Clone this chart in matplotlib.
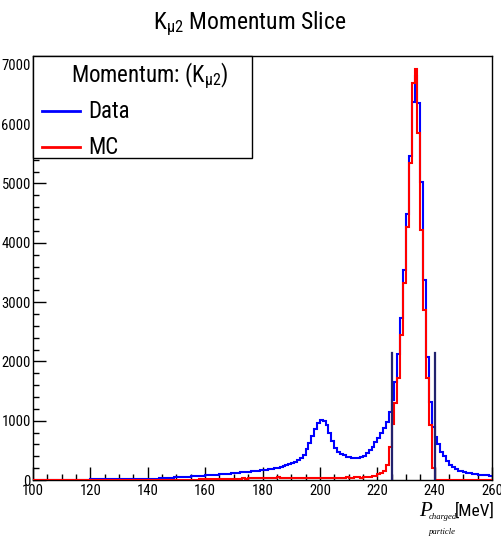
import matplotlib
matplotlib.use("Agg")
import matplotlib.pyplot as plt
import numpy as np
from matplotlib import font_manager
from matplotlib.ticker import MultipleLocator

names = {f.name for f in font_manager.fontManager.ttflist}
SANS = "Liberation Sans"
NARROW = False
for cand in ["Liberation Sans Narrow", "Roboto Condensed", "Open Sans Condensed", "DejaVu Sans Condensed"]:
    if cand in names:
        SANS = cand
        NARROW = True
        break
k = 1.0 if NARROW else 0.86

plt.rcParams['font.family'] = [SANS, 'DejaVu Sans']
plt.rcParams['mathtext.fontset'] = 'custom'
plt.rcParams['mathtext.rm'] = SANS
plt.rcParams['mathtext.it'] = SANS

# ---------------- data ----------------
bin_edges_start = 100
bin_width = 1
n_bins = 160

data_counts = [
    3, 3, 3, 4, 4, 4, 4, 5, 5, 5,
    5, 6, 6, 6, 7, 7, 7, 8, 8, 8,
    9, 9, 10, 10, 11, 11, 12, 12, 13, 13,
    14, 14, 15, 15, 16, 16, 17, 17, 18, 18,
    19, 21, 23, 25, 28, 31, 34, 37, 40, 43,
    46, 49, 52, 55, 58, 61, 64, 67, 70, 73,
    76, 80, 84, 88, 92, 96, 100, 104, 108, 112,
    117, 122, 127, 132, 137, 142, 147, 152, 157, 163,
    170, 177, 184, 192, 200, 210, 220, 232, 245, 262,
    282, 305, 335, 370, 430, 520, 620, 740, 860, 960,
    1010, 1000, 920, 800, 650, 540, 480, 440, 415, 395,
    380, 370, 365, 367, 385, 410, 450, 500, 562, 646,
    703, 790, 871, 983, 1152, 1349, 1658, 2125, 2727, 3541,
    4480, 5470, 6380, 6810, 6360, 5030, 3370, 2080, 1320, 900,
    720, 600, 480, 400, 320, 260, 215, 185, 160, 145,
    132, 122, 112, 104, 97, 91, 86, 82, 78, 74,
]

mc_counts = [
    0, 0, 0, 0, 0, 0, 0, 0, 0, 0,
    0, 0, 0, 0, 0, 0, 0, 0, 0, 0,
    0, 0, 0, 0, 0, 0, 0, 0, 0, 0,
    0, 0, 0, 0, 0, 0, 0, 0, 0, 0,
    1, 1, 1, 2, 2, 2, 3, 3, 3, 4,
    4, 5, 5, 6, 6, 7, 8, 8, 9, 10,
    11, 12, 13, 14, 15, 16, 17, 18, 19, 20,
    22, 24, 23, 26, 25, 28, 27, 30, 29, 31,
    33, 30, 35, 32, 34, 48, 36, 33, 38, 35,
    37, 34, 39, 36, 41, 38, 36, 40, 37, 42,
    39, 36, 41, 38, 35, 40, 37, 42, 39, 44,
    41, 38, 43, 45, 42, 47, 50, 55, 62, 75,
    95, 118, 150, 253, 560, 950, 1300, 1714, 2445, 3316,
    4272, 5340, 6690, 6925, 5846, 4216, 2867, 1714, 927, 197,
    0, 0, 0, 0, 0, 0, 0, 0, 0, 0,
    0, 0, 0, 0, 0, 0, 0, 0, 0, 0,
]

cut_positions = [225, 240]
cut_height = 2150

x_ticks = [100, 120, 140, 160, 180, 200, 220, 240, 260]
y_ticks = [0, 1000, 2000, 3000, 4000, 5000, 6000, 7000]
title = r"K$_{\mathrm{μ2}}$ Momentum Slice"
legend_header = r"Momentum: (K$_{\mathrm{μ2}}$)"
series_labels = ["Data", "MC"]

# ---------------- figure ----------------
W, H = 501, 538
fig = plt.figure(figsize=(W / 100, H / 100), dpi=100)
ax = fig.add_axes([33 / W, (H - 480) / H, 459 / W, 424 / H])

edges = bin_edges_start + bin_width * np.arange(n_bins + 1)
ax.stairs(data_counts, edges, baseline=None, color="#0000ff", linewidth=1.5, zorder=2)
ax.stairs(mc_counts, edges, baseline=None, color="#ff0000", linewidth=1.5, zorder=3)
for c in cut_positions:
    ax.plot([c, c], [0, cut_height], color="#22226e", linewidth=1.6, zorder=4)

ax.set_xlim(100, 260)
ax.set_ylim(0, 7150)
ax.set_xticks(x_ticks)
ax.set_yticks(y_ticks)
ax.xaxis.set_minor_locator(MultipleLocator(5))
ax.yaxis.set_minor_locator(MultipleLocator(200))
ax.tick_params(which="both", direction="in", top=False, right=False,
               width=1.0, color="black", labelsize=10.5 * k)
ax.tick_params(which="major", length=9.5)
ax.tick_params(which="minor", length=4.5)
ax.tick_params(axis="y", pad=1.5)
ax.tick_params(axis="x", pad=3)
for s in ax.spines.values():
    s.set_linewidth(1.0)
    s.set_color("black")

# title
fig.text(250 / W, 1 - 24 / H, title, ha="center", va="center", fontsize=17 * k)

# legend box
lx0, lx1, ly0, ly1 = 33, 252, 56, 158
box = plt.Rectangle((lx0 / W, 1 - ly1 / H), (lx1 - lx0) / W, (ly1 - ly0) / H,
                    transform=fig.transFigure, facecolor="white", edgecolor="black",
                    linewidth=1.0, zorder=10)
fig.patches.append(box)
fig.text(150 / W, 1 - 76 / H, legend_header, ha="center", va="center",
         fontsize=16.5 * k, zorder=11)
colors = ["#0000ff", "#ff0000"]
for i, (lab, col) in enumerate(zip(series_labels, colors)):
    yy = 1 - (111 + 36 * i) / H
    fig.lines.append(plt.Line2D([42 / W, 80 / W], [yy, yy], transform=fig.transFigure,
                                color=col, linewidth=2.0, zorder=11))
    fig.text(88 / W, yy, lab, ha="left", va="center", fontsize=16.5 * k, zorder=11)

# x-axis label
fig.text(419 / W, 1 - 512 / H, "P", ha="left", va="center", fontsize=15,
         family="Liberation Serif", style="italic")
fig.text(429 / W, 1 - 517 / H, "charged", ha="left", va="center", fontsize=6.2,
         family="Liberation Serif", style="italic")
fig.text(429 / W, 1 - 532 / H, "particle", ha="left", va="center", fontsize=6.2,
         family="Liberation Serif", style="italic")
fig.text(495 / W, 1 - 511 / H, "[MeV]", ha="right", va="center", fontsize=12.5 * k)

fig.savefig("out.png", dpi=100)
